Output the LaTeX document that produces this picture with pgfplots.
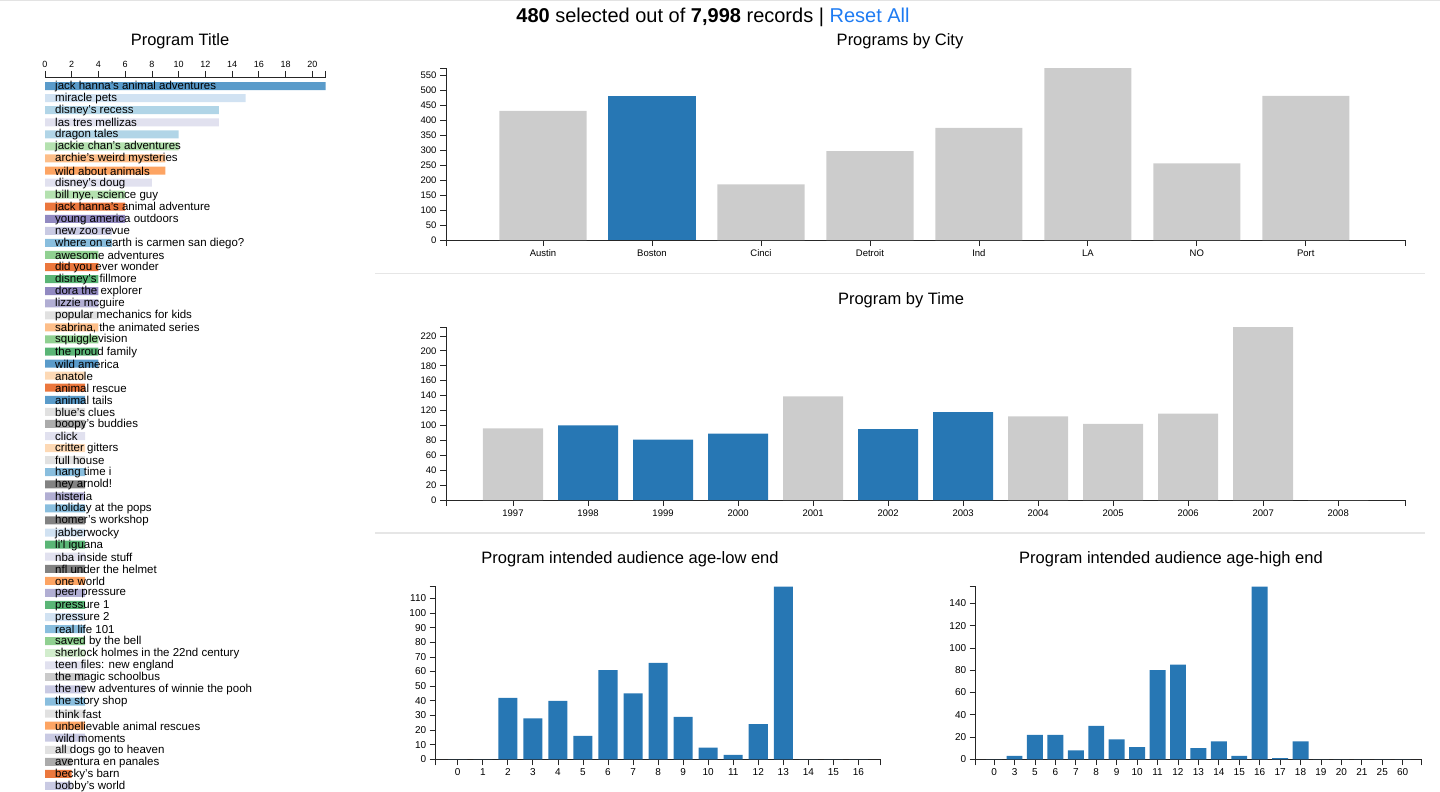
\documentclass[border=0pt]{standalone}
\usepackage{fontspec}
\setmainfont{Liberation Sans}
\usepackage{pgfplots}
\pgfplotsset{compat=1.18}

% d3 category20c
\definecolor{cA}{HTML}{3182BD}
\definecolor{cB}{HTML}{6BAED6}
\definecolor{cC}{HTML}{9ECAE1}
\definecolor{cD}{HTML}{C6DBEF}
\definecolor{cE}{HTML}{E6550D}
\definecolor{cF}{HTML}{FD8D3C}
\definecolor{cG}{HTML}{FDAE6B}
\definecolor{cH}{HTML}{FDD0A2}
\definecolor{cI}{HTML}{31A354}
\definecolor{cJ}{HTML}{74C476}
\definecolor{cK}{HTML}{A1D99B}
\definecolor{cL}{HTML}{C7E9C0}
\definecolor{cM}{HTML}{756BB1}
\definecolor{cN}{HTML}{9E9AC8}
\definecolor{cO}{HTML}{BCBDDC}
\definecolor{cP}{HTML}{DADAEB}
\definecolor{cQ}{HTML}{636363}
\definecolor{cR}{HTML}{969696}
\definecolor{cS}{HTML}{BDBDBD}
\definecolor{cT}{HTML}{D9D9D9}
\definecolor{selblue}{HTML}{2777B4}
\definecolor{offgray}{HTML}{CCCCCC}
\definecolor{resetblue}{HTML}{1E7BF2}
\definecolor{sepgray}{HTML}{E6E6E6}

\pgfplotsset{
  dc/.style={
    scale only axis,
    axis lines=left,
    axis line style={-, black!85, line width=0.8pt},
    tick style={black!85, line width=0.8pt},
    tick align=outside,
    major tick length=6pt,
    ymin=0,
    enlargelimits=false,
    clip=false,
    ticklabel style={font=\fontsize{9.5}{10}\selectfont},
    /pgf/number format/assume math mode=true,
    extra x tick labels={},
    extra y tick labels={},
  },
  rowbar/.style={xbar, bar width=0.663, draw=none, fill=#1!80},
  colbar/.style={ybar, bar width=#1, draw=none},
}

\begin{document}
\begin{tikzpicture}
\path[use as bounding box] (0,0) rectangle (1440pt,-792pt);

% header and separators
\draw[gray!22, line width=1pt] (0,-1pt) -- (1440pt,-1pt);
\node at (713pt,-17pt) {\fontsize{20}{21}\selectfont\textbf{480} selected out of \textbf{7,998} records | \textcolor{resetblue}{Reset All}};
\draw[sepgray, line width=1.3pt] (375pt,-273.3pt) -- (1425pt,-273.3pt);
\draw[sepgray, line width=1.3pt] (375pt,-533pt) -- (1425pt,-533pt);

% titles
\node at (180pt,-41pt) {\fontsize{16.5}{17}\selectfont Program Title};
\node at (900pt,-41pt) {\fontsize{16.5}{17}\selectfont Programs by City};
\node at (901pt,-300pt) {\fontsize{16.5}{17}\selectfont Program by Time};
\node at (630pt,-559pt) {\fontsize{16.5}{17}\selectfont Program intended audience age-low end};
\node at (1171pt,-559pt) {\fontsize{16.5}{17}\selectfont Program intended audience age-high end};

% ---- Program Title (row chart)
\begin{axis}[
  scale only axis, at={(45pt,-77pt)}, anchor=north west,
  width=280.7pt, height=715pt,
  xmin=0, xmax=21, ymin=-58.5, ymax=0.75,
  axis x line=top, axis y line=none,
  axis line style={-, black!85, line width=0.8pt},
  tick style={black!85, line width=0.8pt},
  tick align=outside, major tick length=6pt,
  xtick={0,2,...,20}, extra x ticks={21}, extra x tick labels={},
  ticklabel style={font=\fontsize{9}{10}\selectfont},
  /pgf/number format/assume math mode=true,
  clip=false,
]
\addplot[rowbar=cA] coordinates {(21,0) (4,-23) (3,-26)};
\addplot[rowbar=cB] coordinates {(5,-13) (3,-32) (3,-35) (3,-45) (3,-51)};
\addplot[rowbar=cC] coordinates {(13,-2) (10,-4)};
\addplot[rowbar=cD] coordinates {(15,-1) (3,-37) (3,-44)};
\addplot[rowbar=cE] coordinates {(6,-10) (4,-15) (3,-25) (2,-57)};
\addplot[rowbar=cF] coordinates {(9,-7) (3,-41) (3,-53)};
\addplot[rowbar=cG] coordinates {(9,-6) (4,-20)};
\addplot[rowbar=cH] coordinates {(3,-24) (3,-30)};
\addplot[rowbar=cI] coordinates {(4,-16) (4,-22) (3,-38) (3,-43)};
\addplot[rowbar=cJ] coordinates {(4,-14) (4,-21) (3,-46)};
\addplot[rowbar=cK] coordinates {(10,-5) (6,-9)};
\addplot[rowbar=cL] coordinates {(3,-47)};
\addplot[rowbar=cM] coordinates {(6,-11) (4,-17)};
\addplot[rowbar=cN] coordinates {(4,-18) (3,-34) (3,-42)};
\addplot[rowbar=cO] coordinates {(5,-12) (3,-50) (3,-54) (2,-58)};
\addplot[rowbar=cP] coordinates {(13,-3) (8,-8) (3,-29) (3,-39) (3,-48)};
\addplot[rowbar=cQ] coordinates {(3,-33) (3,-36) (3,-40)};
\addplot[rowbar=cR] coordinates {(3,-28) (2,-56)};
\addplot[rowbar=cS] coordinates {(3,-49)};
\addplot[rowbar=cT] coordinates {(4,-19) (3,-27) (3,-31) (3,-52) (2,-55)};
\addplot[draw=none, mark=none, nodes near coords, point meta=explicit symbolic,
  nodes near coords style={anchor=west, inner sep=0pt, xshift=10pt, yshift=-0.5pt, text=black,
    font=\fontsize{11.5}{12}\selectfont}]
coordinates {
(0,0) [jack hanna's animal adventures]
(0,-1) [miracle pets]
(0,-2) [disney's recess]
(0,-3) [las tres mellizas]
(0,-4) [dragon tales]
(0,-5) [jackie chan's adventures]
(0,-6) [archie's weird mysteries]
(0,-7) [wild about animals]
(0,-8) [disney's doug]
(0,-9) [bill nye, science guy]
(0,-10) [jack hanna's animal adventure]
(0,-11) [young america outdoors]
(0,-12) [new zoo revue]
(0,-13) [where on earth is carmen san diego?]
(0,-14) [awesome adventures]
(0,-15) [did you ever wonder]
(0,-16) [disney's fillmore]
(0,-17) [dora the explorer]
(0,-18) [lizzie mcguire]
(0,-19) [popular mechanics for kids]
(0,-20) [sabrina, the animated series]
(0,-21) [squigglevision]
(0,-22) [the proud family]
(0,-23) [wild america]
(0,-24) [anatole]
(0,-25) [animal rescue]
(0,-26) [animal tails]
(0,-27) [blue's clues]
(0,-28) [boopy's buddies]
(0,-29) [click]
(0,-30) [critter gitters]
(0,-31) [full house]
(0,-32) [hang time i]
(0,-33) [hey arnold!]
(0,-34) [histeria]
(0,-35) [holiday at the pops]
(0,-36) [homer's workshop]
(0,-37) [jabberwocky]
(0,-38) [li'l iguana]
(0,-39) [nba inside stuff]
(0,-40) [nfl under the helmet]
(0,-41) [one world]
(0,-42) [peer pressure]
(0,-43) [pressure 1]
(0,-44) [pressure 2]
(0,-45) [real life 101]
(0,-46) [saved by the bell]
(0,-47) [sherlock holmes in the 22nd century]
(0,-48) [teen files: new england]
(0,-49) [the magic schoolbus]
(0,-50) [the new adventures of winnie the pooh]
(0,-51) [the story shop]
(0,-52) [think fast]
(0,-53) [unbelievable animal rescues]
(0,-54) [wild moments]
(0,-55) [all dogs go to heaven]
(0,-56) [aventura en panales]
(0,-57) [becky's barn]
(0,-58) [bobby's world]
};
\end{axis}

% ---- Programs by City
\begin{axis}[dc, at={(446pt,-240pt)}, anchor=south west,
  width=959pt, height=172pt,
  xmin=-0.89, xmax=7.91, ymax=574,
  xtick={0,...,7}, xticklabels={Austin,Boston,Cinci,Detroit,Ind,LA,NO,Port},
  ytick={0,50,...,550},
  extra x ticks={-0.89,7.91}, extra y ticks={574},
]
\addplot[colbar=0.8, fill=offgray] coordinates {(0,431) (2,186) (3,297) (4,374) (5,574) (6,256) (7,481)};
\addplot[colbar=0.8, fill=selblue] coordinates {(1,480)};
\end{axis}

% ---- Program by Time
\begin{axis}[dc, at={(446pt,-500pt)}, anchor=south west,
  width=959pt, height=173pt,
  xmin=-0.893, xmax=11.89, ymax=232,
  xtick={0,...,11},
  xticklabels={1997,1998,1999,2000,2001,2002,2003,2004,2005,2006,2007,2008},
  ytick={0,20,...,220},
  extra x ticks={-0.893,11.89}, extra y ticks={232},
]
\addplot[colbar=0.8, fill=offgray] coordinates {(0,96) (4,139) (7,112) (8,102) (9,116) (10,232) (11,0)};
\addplot[colbar=0.8, fill=selblue] coordinates {(1,100) (2,81) (3,89) (5,95) (6,118)};
\end{axis}

% ---- age low end
\begin{axis}[dc, at={(435.7pt,-759.3pt)}, anchor=south west,
  width=445pt, height=172.6pt,
  xmin=-0.88, xmax=16.89, ymax=118,
  xtick={0,...,16}, ytick={0,10,...,110},
  extra x ticks={-0.88,16.89}, extra y ticks={118},
  ticklabel style={font=\fontsize{10}{11}\selectfont},
]
\addplot[colbar=0.76, fill=selblue] coordinates {
(0,0) (1,0) (2,42) (3,28) (4,40) (5,16) (6,61) (7,45) (8,66)
(9,29) (10,8) (11,3) (12,24) (13,118) (14,0) (15,0) (16,0)};
\end{axis}

% ---- age high end
\begin{axis}[dc, at={(975.7pt,-759.3pt)}, anchor=south west,
  width=446pt, height=172.6pt,
  xmin=-0.9, xmax=20.93, ymax=155,
  xtick={0,...,20},
  xticklabels={0,3,5,6,7,8,9,10,11,12,13,14,15,16,17,18,19,20,21,25,60},
  ytick={0,20,...,140},
  extra x ticks={-0.9,20.93}, extra y ticks={155},
  ticklabel style={font=\fontsize{10}{11}\selectfont},
]
\addplot[colbar=0.78, fill=selblue] coordinates {
(0,0) (1,3) (2,22) (3,22) (4,8) (5,30) (6,18) (7,11) (8,80) (9,85)
(10,10) (11,16) (12,3) (13,155) (14,1) (15,16) (16,0) (17,0) (18,0) (19,0) (20,0)};
\end{axis}
\end{tikzpicture}
\end{document}
